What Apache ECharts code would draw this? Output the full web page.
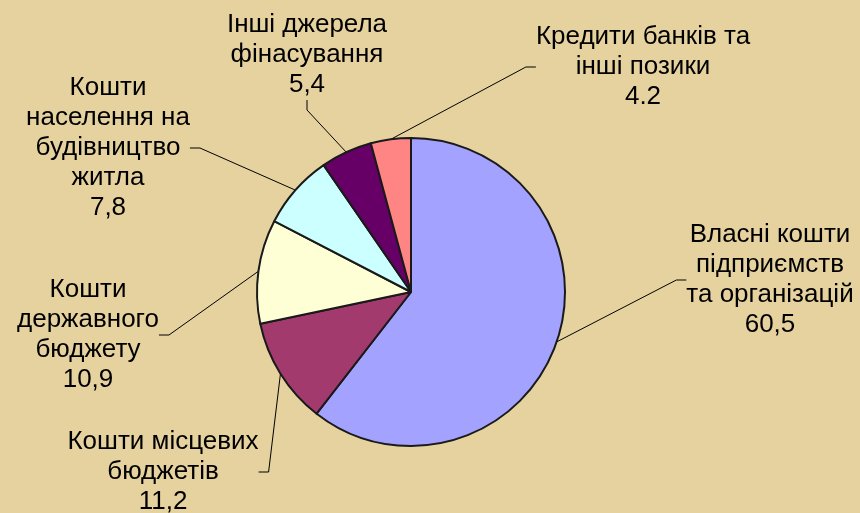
<!DOCTYPE html>
<html>
<head>
<meta charset="utf-8">
<script src="https://cdn.jsdelivr.net/npm/echarts@6/dist/echarts.min.js"></script>
<style>
  html, body { margin: 0; padding: 0; }
  #chart { width: 860px; height: 513px; }
</style>
</head>
<body>
<div id="chart"></div>
<script>
// джерела фінансування (%)
const categories = [
  'Власні кошти\nпідприємств\nта організацій',
  'Кошти місцевих\nбюджетів',
  'Кошти\nдержавного\nбюджету',
  'Кошти\nнаселення на\nбудівництво\nжитла',
  'Інші джерела\nфінасування',
  'Кредити банків та\nінші позики'
];
const values = [60.5, 11.2, 10.9, 7.8, 5.4, 4.2];
const valueLabels = ['60,5', '11,2', '10,9', '7,8', '5,4', '4.2'];

const colors = ['#a3a3ff', '#a33a6e', '#ffffd6', '#ccffff', '#660066', '#ff8585'];
// де стоять підписи (центр блоку тексту)
const labelPos = [[770, 280], [163, 472], [88, 335], [108, 148], [307, 55], [643, 67]];

const myChart = echarts.init(document.getElementById('chart'));

const option = {
  backgroundColor: '#e6d29f',
  series: [
    {
      type: 'pie',
      center: [411, 292],
      radius: 154,
      startAngle: 90,
      clockwise: true,
      animation: false,
      itemStyle: {
        borderColor: '#1a1a1a',
        borderWidth: 2
      },
      label: {
        show: true,
        color: '#000',
        fontFamily: 'Arial, "Liberation Sans", sans-serif',
        fontSize: 26,
        lineHeight: 30,
        align: 'center',
        formatter: p => p.name + '\n' + valueLabels[p.dataIndex]
      },
      labelLine: {
        show: true,
        length: 20,
        length2: 10,
        lineStyle: { color: '#000', width: 1 }
      },
      labelLayout: p => ({
        x: labelPos[p.dataIndex][0],
        y: labelPos[p.dataIndex][1],
        align: 'center',
        verticalAlign: 'middle'
      }),
      data: categories.map((c, i) => ({
        name: c,
        value: values[i],
        itemStyle: { color: colors[i] }
      }))
    }
  ]
};

myChart.setOption(option);
</script>
</body>
</html>
